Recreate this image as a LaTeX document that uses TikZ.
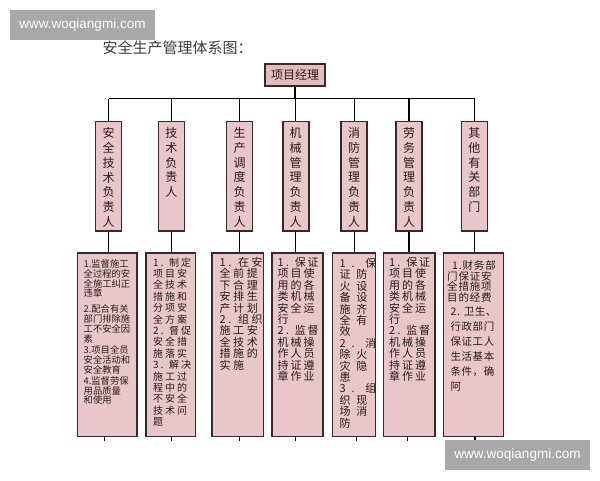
\documentclass[tikz,border=0pt]{standalone}
\usepackage{fontspec}
\newfontfamily\cjk{Noto Sans CJK SC}
\newfontfamily\wmfont{Liberation Sans}
\definecolor{boxpink}{RGB}{233,198,202}
\definecolor{pmpink}{RGB}{228,188,192}
\definecolor{boxborder}{RGB}{58,40,42}
\definecolor{txtdark}{RGB}{40,26,26}
\definecolor{titlegray}{RGB}{60,60,60}
\definecolor{wmgray}{RGB}{168,168,168}
\newcommand{\ls}[1]{\addfontfeature{LetterSpace=#1}}
\begin{document}
\begin{tikzpicture}[x=1pt,y=-1pt,
  conn/.style={draw=black,line width=1.2pt},
  pmbox/.style={draw=boxborder,line width=1.6pt,fill=pmpink,minimum width=60pt,minimum height=22pt,inner sep=0pt,text=txtdark,font=\cjk\fontsize{12}{14}\selectfont},
  colbox/.style={draw=boxborder,line width=1.6pt,fill=boxpink,minimum width=26pt,minimum height=109.5pt,inner sep=0pt},
  coltext/.style={anchor=north,inner sep=0pt,align=center,text=txtdark,font=\cjk\fontsize{12}{14.8}\selectfont},
  botbox/.style={draw=boxborder,line width=1.6pt,fill=boxpink,minimum height=183.5pt,inner sep=0pt},
  bottext/.style={anchor=north west,inner sep=0pt,align=left,text=txtdark},
  wm/.style={fill=wmgray,minimum width=145pt,minimum height=30pt,inner sep=0pt,text=white,font=\wmfont\fontsize{13.5}{15}\selectfont}
]
\useasboundingbox (0,0) rectangle (600,480);
\fill[white] (0,0) rectangle (600,480);

% title
\node[anchor=west,inner sep=0pt,text=titlegray,font=\cjk\fontsize{15}{17}\selectfont] (title) at (102.5,48) {安全生产管理体系图：};

% project manager
\node[pmbox] (pm) at (295,75) {项目经理};

% bar
\coordinate (barL) at (108.5,98.5);
\coordinate (barR) at (474.5,98.5);

% column boxes
\node[colbox] (c1) at (108.5,176.3) {};
\node[colbox] (c2) at (171.3,176.3) {};
\node[colbox] (c3) at (239.5,176.3) {};
\node[colbox] (c4) at (295.7,176.3) {};
\node[colbox] (c5) at (354.2,176.3) {};
\node[colbox] (c6) at (409,176.3) {};
\node[colbox] (c7) at (474.3,176.3) {};

\node[coltext] (c1t) at (108.5,127.3) {安\\全\\技\\术\\负\\责\\人};
\node[coltext] (c2t) at (171.3,127.3) {技\\术\\负\\责\\人};
\node[coltext] (c3t) at (239.5,127.3) {生\\产\\调\\度\\负\\责\\人};
\node[coltext] (c4t) at (295.7,127.3) {机\\械\\管\\理\\负\\责\\人};
\node[coltext] (c5t) at (354.2,127.3) {消\\防\\管\\理\\负\\责\\人};
\node[coltext] (c6t) at (409,127.3) {劳\\务\\管\\理\\负\\责\\人};
\node[coltext] (c7t) at (474.3,127.3) {其\\他\\有\\关\\部\\门};

% bottom boxes
\node[botbox,minimum width=59.2pt] (b1) at (107.1,344.75) {};
\node[botbox,minimum width=49.5pt] (b2) at (170.75,344.75) {};
\node[botbox,minimum width=51.3pt] (b3) at (237.65,344.75) {};
\node[botbox,minimum width=51pt] (b4) at (297.5,344.75) {};
\node[botbox,minimum width=43pt] (b5) at (354,344.75) {};
\node[botbox,minimum width=51.7pt] (b6) at (409.15,344.75) {};
\node[botbox,minimum width=59.8pt] (b7) at (473.4,344.75) {};

% bottom texts
\node[bottext,font=\cjk\fontsize{9.3}{9.8}\selectfont] (b1t) at (83.5,259.5) {1.监督施工\\全过程的安\\全施工纠正\\违章\\[6pt]2.配合有关\\部门排除施\\工不安全因\\素\\[2pt]3.项目全员\\安全活动和\\安全教育\\[1pt]4.监督劳保\\用品质量\\和使用};
\node[bottext,font=\cjk\fontsize{10}{11.4}\selectfont\ls{20}] (b2t) at (153,257.5) {1. 制定\\项目安\\全技术\\措施和\\分项安\\全方案\\2. 督促\\安全措\\施落实\\3. 解决\\施工过\\程中的\\不安全\\技术问\\题};
\node[bottext,font=\cjk\fontsize{11}{11.4}\selectfont\ls{23}] (b3t) at (219.5,257) {1. 在安\\全前提\\下合理\\安排生\\产计划\\2. 组织\\施工安\\全技术\\措施的\\实施};
\node[bottext,font=\cjk\fontsize{11}{11.4}\selectfont\ls{18}] (b4t) at (277.5,257) {1. 保证\\项目使\\用的各\\类机械\\安全运\\行\\2. 监督\\机械操\\作人员\\持证遵\\章作业};
\node[bottext,font=\cjk\fontsize{11}{11.4}\selectfont\ls{52}] (b5t) at (339.5,258) {1. 保\\证防\\火设\\备设\\施齐\\全有\\效\\2. 消\\除火\\灾隐\\患\\3. 组\\织现\\场消\\防};
\node[bottext,font=\cjk\fontsize{11}{11.4}\selectfont\ls{18}] (b6t) at (389,257) {1. 保证\\项目使\\用的各\\类机械\\安全运\\行\\2. 监督\\机械操\\作人员\\持证遵\\章作业};
\node[bottext,font=\cjk\fontsize{10.5}{10.8}\selectfont\ls{8}] (b7ta) at (447,260.3) {\hspace*{5pt}1.财务部\\门保证安\\全措施项\\目的经费};
\node[bottext,font=\cjk\fontsize{10.5}{15}\selectfont\ls{5}] (b7tb) at (450.5,306.5) {2. 卫生、\\行政部门\\保证工人\\生活基本\\条件，确\\阿};

% connectors
\draw[conn] (barL) -- (barR);
\draw[conn] (pm.south) -- (pm.south |- barL);
\foreach \i in {1,...,7}{
  \draw[conn] (c\i.north) -- (c\i.north |- barL);
  \draw[conn] (c\i.south) -- (c\i.south |- b\i.north);
}
% stubs
\coordinate (s1) at (104.3,440.5);
\coordinate (s2) at (171.7,440.5);
\coordinate (s3) at (239.3,440.5);
\coordinate (s4) at (295.3,440.5);
\coordinate (s5) at (356.7,440.5);
\coordinate (s6) at (407.7,440.5);
\coordinate (s7) at (475,440.5);
\foreach \i in {1,...,7}{
  \draw[conn] (s\i |- b\i.south) -- (s\i);
}

% watermarks
\node[wm] (wm1) at (82.5,25) {www.woqiangmi.com};
\node[wm] (wm2) at (517.5,455) {www.woqiangmi.com};
\end{tikzpicture}
\end{document}
